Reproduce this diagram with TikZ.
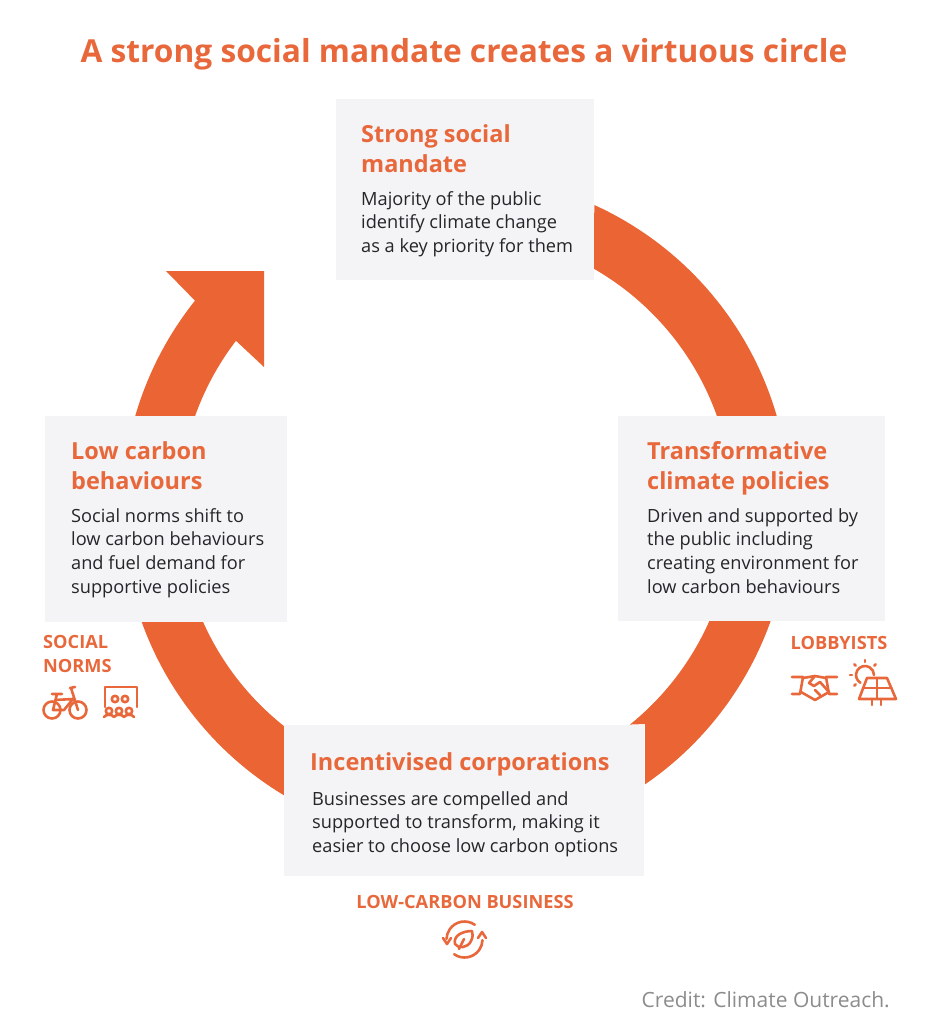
\documentclass[tikz,border=0pt]{standalone}
\usepackage{fontspec}
\setmainfont{Open Sans}
\usetikzlibrary{calc,positioning}
\definecolor{ringorange}{HTML}{EB6534}
\definecolor{headorange}{HTML}{E8683B}
\definecolor{boxgray}{HTML}{F4F4F6}
\definecolor{bodyblack}{HTML}{26262A}
\definecolor{creditgray}{HTML}{8C8C8C}
\tikzset{
  panel/.style={fill=boxgray, draw=none, inner sep=0pt},
  headtext/.style={text=headorange, font=\fontsize{23.5}{30}\selectfont\bfseries, align=left, anchor=north west, inner sep=0pt},
  bodytext/.style={text=bodyblack, font=\fontsize{18.2}{23.8}\selectfont, align=left, anchor=north west, inner sep=0pt},
  tagtext/.style={text=headorange, font=\fontsize{18.2}{24}\selectfont\bfseries, align=left, inner sep=0pt},
  iconline/.style={draw=headorange, line width=2.6pt, line cap=round, line join=round, fill=none}
}
\begin{document}
\begin{tikzpicture}[x=1pt,y=-1pt]
  \useasboundingbox (0,0) rectangle (929,1024);

  \coordinate (ringcentre) at (456,509);

  % ring
  \fill[ringorange] ($(ringcentre)+(-65.5:334)$) arc[start angle=-65.5,end angle=-16.2,radius=334]
    -- ($(ringcentre)+(-19.6:277)$) arc[start angle=-19.6,end angle=-60.5,radius=277] -- cycle;
  \fill[ringorange] ($(ringcentre)+(19.4:334)$) arc[start angle=19.4,end angle=55.5,radius=334]
    -- (645,724) -- ($(ringcentre)+(51.1:277)$) arc[start angle=51.1,end angle=23.6,radius=277] -- cycle;
  \fill[ringorange] ($(ringcentre)+(160.4:334)$) arc[start angle=160.4,end angle=121,radius=334]
    -- ($(ringcentre)+(128.4:277)$) arc[start angle=128.4,end angle=156.1,radius=277] -- cycle;
  \fill[ringorange] ($(ringcentre)+(196.2:334)$) arc[start angle=196.2,end angle=218.6,radius=334]
    -- (166,271) -- (264,271) -- (264,367)
    -- ($(ringcentre)+(217.4:277)$) arc[start angle=217.4,end angle=199.6,radius=277] -- cycle;

  % panels
  \node[panel, minimum width=258pt, minimum height=181pt] (mandatebox) at (465,189.5) {};
  \node[panel, minimum width=242pt, minimum height=206pt] (behavbox) at (166,519) {};
  \node[panel, minimum width=267pt, minimum height=205pt] (policybox) at (751.5,518.5) {};
  \node[panel, minimum width=360pt, minimum height=151pt] (corpbox) at (464,800.5) {};

  % title
  \node[text=headorange, font=\fontsize{31.7}{38}\selectfont\bfseries, inner sep=0pt] (titletext) at (464,54) {A strong social mandate creates a virtuous circle};

  % box texts
  \node[headtext] (mandatehead) at (361,124) {Strong social\\mandate};
  \node[bodytext] (mandatebody) at (361,191) {Majority of the public\\identify climate change\\as a key priority for them};
  \node[headtext] (behavhead) at (71,441) {Low carbon\\behaviours};
  \node[bodytext] (behavbody) at (71,508) {Social norms shift to\\low carbon behaviours\\and fuel demand for\\supportive policies};
  \node[headtext] (policyhead) at (647,441) {Transformative\\climate policies};
  \node[bodytext] (policybody) at (647,508) {Driven and supported by\\the public including\\creating environment for\\low carbon behaviours};
  \node[headtext] (corphead) at (310,752) {Incentivised corporations};
  \node[bodytext] (corpbody) at (312,791) {Businesses are compelled and\\supported to transform, making it\\easier to choose low carbon options};

  % tags
  \node[tagtext, anchor=north west] (normstag) at (43,635) {SOCIAL\\NORMS};
  \node[tagtext] (lobbytag) at (839,643) {LOBBYISTS};
  \node[tagtext] (bizztag) at (465,902) {LOW-CARBON BUSINESS};
  \node[text=creditgray, font=\fontsize{21}{24}\selectfont, anchor=east, inner sep=0pt] (credittext) at (890,1000) {Credit: Climate Outreach.};

  % bike
  \draw[iconline] (52,710) circle (8.5) (78,710) circle (8.5);
  \draw[iconline] (57,694) -- (53,710) -- (64,710) -- (73,699) -- (55,700) (52,694) -- (62,694) (70,688) -- (75,687) (71,688) -- (78,710);
  % audience
  \draw[iconline] (105,707) -- (105,687) -- (137,687) -- (137,707);
  \foreach \hx in {115,125} \draw[iconline] (\hx,699) circle (3.2);
  \foreach \hx in {109,119,129} \draw[iconline] (\hx,711) circle (3.2) (\hx-5,717) .. controls (\hx-3,714) and (\hx+3,714) .. (\hx+5,717);

  % handshake
  \draw[iconline] (792,677) -- (803,677) -- (800,694) -- (792,694);
  \draw[iconline] (837,677) -- (826,677) -- (829,694) -- (837,694);
  \draw[iconline] (803,678) -- (815,676) -- (826,678) (815,676) -- (809,683) -- (814,686) -- (820,682) -- (829,692) -- (815,700) -- (801,692) (815,690) -- (820,695);
  % solar
  \draw[iconline] (867,678) -- (887,678) -- (896,699) -- (859,699) -- cycle;
  \draw[iconline] (863,688) -- (891.5,688) (877,678) -- (877,699) (872,699) -- (872,705) (881,699) -- (881,705);
  \draw[iconline] ($(865,675)+(120:9)$) arc[start angle=120,end angle=360,radius=9];
  \foreach \ra in {135,180,225,270,315} \draw[iconline] ($(865,675)+(\ra:13)$) -- ($(865,675)+(\ra:15)$);

  % leaf cycle
  \coordinate (leafcentre) at (464.5,939.5);
  \draw[iconline] ($(leafcentre)+(-55:18)$) arc[start angle=-55,end angle=-178,radius=18];
  \draw[iconline] (443,938) -- (447,944) -- (451,938);
  \draw[iconline] ($(leafcentre)+(125:18)$) arc[start angle=125,end angle=2,radius=18];
  \draw[iconline] (478,938) -- (482,932) -- (486,938);
  \draw[iconline] (472,931) .. controls (462,931) and (453,936) .. (455,944) .. controls (458,949) and (468,948) .. (471,941) .. controls (473,937) and (473,934) .. (472,931) -- cycle;
  \draw[iconline] (459,949) -- (464,939);
\end{tikzpicture}
\end{document}
